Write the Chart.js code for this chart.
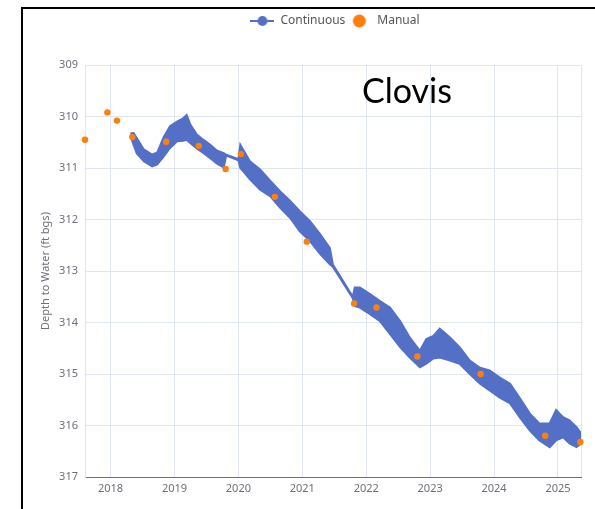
<!DOCTYPE html>
<html>
<head>
<meta charset="utf-8">
<title>Clovis – Depth to Water</title>
<script src="https://cdn.jsdelivr.net/npm/chart.js@4.4.1/dist/chart.umd.min.js"></script>
<style>
  html, body { margin: 0; padding: 0; background: #fff; }
  #wrap { position: relative; width: 595px; height: 509px; overflow: hidden; }
  #chart { position: absolute; left: 0; top: 0; }
  #frame { position: absolute; left: 21px; top: 7px; width: 700px; height: 700px;
           border: 2px solid #000; box-sizing: border-box; pointer-events: none; }
</style>
</head>
<body>
<div id="wrap">
  <canvas id="chart" width="595" height="509"></canvas>
  <div id="frame"></div>
</div>
<script>
// Manual (hand-measured) readings: decimal year and depth to water, ft bgs
const manualYears  = [2017.60, 2017.95, 2018.10, 2018.34, 2018.87, 2019.38, 2019.80, 2020.04,
                      2020.57, 2021.07, 2021.81, 2022.16, 2022.80, 2023.79, 2024.80, 2025.35];
const manualDepths = [310.45, 309.92, 310.08, 310.40, 310.49, 310.57, 311.02, 310.73,
                      311.56, 312.43, 313.63, 313.71, 314.66, 315.00, 316.20, 316.32];

// Continuous logger record, summarised as the shallow / deep envelope of the trace
const contYears = [2018.31, 2018.36, 2018.41, 2018.52, 2018.65, 2018.73, 2018.83, 2018.93,
                   2019.04, 2019.14, 2019.19, 2019.25, 2019.35, 2019.45, 2019.56, 2019.66,
                   2019.77, 2019.81, 2020.00, 2020.03, 2020.10, 2020.18, 2020.34, 2020.50,
                   2020.65, 2020.81, 2020.96, 2021.12, 2021.28, 2021.43, 2021.48, 2021.79,
                   2021.82, 2021.90, 2022.06, 2022.21, 2022.37, 2022.53, 2022.68, 2022.84,
                   2022.94, 2023.05, 2023.15, 2023.31, 2023.46, 2023.62, 2023.78, 2023.93,
                   2024.09, 2024.25, 2024.40, 2024.56, 2024.71, 2024.87, 2024.97, 2025.08,
                   2025.18, 2025.29, 2025.36];
const contShallow = [310.33, 310.32, 310.42, 310.64, 310.74, 310.70, 310.40, 310.19,
                     310.10, 310.03, 309.97, 310.16, 310.35, 310.45, 310.55, 310.66,
                     310.71, 310.74, 310.83, 310.55, 310.70, 310.87, 311.03, 311.25,
                     311.45, 311.64, 311.84, 312.03, 312.29, 312.55, 312.88, 313.50,
                     313.32, 313.32, 313.45, 313.58, 313.71, 313.97, 314.29, 314.55,
                     314.32, 314.26, 314.12, 314.29, 314.48, 314.74, 314.88, 314.93,
                     315.07, 315.19, 315.46, 315.77, 315.96, 315.96, 315.70, 315.84,
                     315.90, 316.03, 316.15];
const contDeep    = [310.36, 310.55, 310.72, 310.87, 310.97, 310.93, 310.78, 310.61,
                     310.48, 310.47, 310.45, 310.52, 310.62, 310.71, 310.81, 310.91,
                     310.99, 310.76, 310.85, 311.00, 311.10, 311.22, 311.42, 311.55,
                     311.77, 311.97, 312.23, 312.42, 312.67, 312.87, 312.92, 313.53,
                     313.68, 313.71, 313.84, 313.97, 314.22, 314.48, 314.68, 314.87,
                     314.80, 314.70, 314.68, 314.74, 314.80, 315.00, 315.19, 315.32,
                     315.46, 315.57, 315.84, 316.10, 316.29, 316.42, 316.29, 316.23,
                     316.35, 316.42, 316.35];

const yearTicks = [2018, 2019, 2020, 2021, 2022, 2023, 2024, 2025];
const depthTop = 309, depthBottom = 317;

const BLUE = '#5470C6';
const ORANGE = '#FF7F0E';
const GRID = '#E0E6F1';
const AXIS = '#6E7079';

const toPoints = (xs, ys) => xs.map((x, i) => ({ x, y: ys[i] }));
const allYears = manualYears.concat(contYears);
const xMin = Math.min(...allYears);
const xMax = Math.max(...allYears);

// small legend glyphs: line-with-dot for the logger series, plain dot for manual readings
function legendGlyph(kind) {
  const c = document.createElement('canvas');
  c.width = 24; c.height = 14;
  const g = c.getContext('2d');
  if (kind === 'line') {
    g.strokeStyle = BLUE; g.lineWidth = 2;
    g.beginPath(); g.moveTo(0, 7); g.lineTo(24, 7); g.stroke();
    g.fillStyle = BLUE;
    g.beginPath(); g.arc(12, 7, 5, 0, Math.PI * 2); g.fill();
  } else {
    g.fillStyle = ORANGE;
    g.beginPath(); g.arc(12, 7, 6.5, 0, Math.PI * 2); g.fill();
  }
  return c;
}

// nudges the legend row sideways so it centres on the framed panel
const legendShift = {
  id: 'legendShift',
  afterLayout(chart, args, opts) {
    if (chart.legend) { chart.legend.left += opts.dx; chart.legend.right += opts.dx; }
  }
};

// station name written inside the plot
const stationLabel = {
  id: 'stationLabel',
  afterDraw(chart, args, opts) {
    const { ctx, chartArea } = chart;
    ctx.save();
    ctx.font = opts.font;
    ctx.fillStyle = opts.color;
    ctx.textBaseline = 'alphabetic';
    ctx.textAlign = 'left';
    ctx.fillText(opts.text, chartArea.left + opts.dx, chartArea.top + opts.dy);
    ctx.restore();
  }
};

Chart.defaults.font.family = "'Noto Sans', 'Open Sans', sans-serif";

new Chart(document.getElementById('chart'), {
  type: 'line',
  data: {
    datasets: [
      {
        label: 'Continuous',
        data: toPoints(contYears, contShallow),
        xAxisID: 'x', yAxisID: 'y',
        borderColor: BLUE,
        backgroundColor: BLUE,
        borderWidth: 2,
        pointRadius: 0,
        fill: '+1',
        order: 2
      },
      {
        label: 'Continuous (deep)',
        data: toPoints(contYears, contDeep),
        xAxisID: 'x', yAxisID: 'y',
        borderColor: BLUE,
        backgroundColor: BLUE,
        borderWidth: 2,
        pointRadius: 0,
        fill: false,
        order: 2
      },
      {
        label: 'Manual',
        data: toPoints(manualYears, manualDepths),
        xAxisID: 'x', yAxisID: 'y',
        showLine: false,
        pointRadius: 3.2,
        pointBackgroundColor: ORANGE,
        pointBorderWidth: 0,
        borderColor: ORANGE,
        backgroundColor: ORANGE,
        clip: false,
        order: 1
      }
    ]
  },
  options: {
    responsive: false,
    animation: false,
    devicePixelRatio: 1,
    layout: { padding: { left: 35, right: 14, top: 13, bottom: 0 } },
    plugins: {
      tooltip: { enabled: false },
      legend: {
        position: 'top',
        align: 'center',
        labels: {
          usePointStyle: true,
          pointStyleWidth: 24,
          padding: 2,
          color: '#555',
          font: { size: 12 },
          generateLabels: () => [
            { text: 'Continuous', pointStyle: legendGlyph('line'), fillStyle: BLUE,
              strokeStyle: BLUE, lineWidth: 0, hidden: false, datasetIndex: 0, fontColor: '#555' },
            { text: 'Manual', pointStyle: legendGlyph('dot'), fillStyle: ORANGE,
              strokeStyle: ORANGE, lineWidth: 0, hidden: false, datasetIndex: 2, fontColor: '#555' }
          ]
        }
      },
      legendShift: { dx: 27 },
      stationLabel: { text: 'Clovis', font: "34px Lato, 'Open Sans', sans-serif",
                      color: '#000', dx: 277, dy: 38 }
    },
    scales: {
      spacer: {
        type: 'linear', position: 'top', display: true,
        grid: { display: false }, border: { display: false }, ticks: { display: false },
        afterFit: s => { s.height = 28; }
      },
      x: {
        type: 'linear',
        position: 'bottom',
        min: xMin,
        max: xMax,
        afterBuildTicks: s => {
          s.ticks = [xMin, ...yearTicks, xMax].map(v => ({ value: v }));
        },
        afterFit: s => { s.height = 32; },
        ticks: {
          autoSkip: false, maxRotation: 0, padding: 5, color: AXIS, font: { size: 11 },
          callback: v => (yearTicks.includes(v) ? String(v) : '')
        },
        grid: { color: GRID, drawTicks: false },
        border: { color: AXIS, width: 1 }
      },
      y: {
        type: 'linear',
        position: 'left',
        reverse: true,
        min: depthTop,
        max: depthBottom,
        afterFit: s => { s.width = 50; },
        ticks: { stepSize: 1, padding: 7, color: AXIS, font: { size: 11 } },
        grid: { color: GRID, drawTicks: false },
        border: { color: GRID },
        title: { display: true, text: 'Depth to Water (ft bgs)', color: AXIS,
                 font: { size: 11 }, padding: { top: 4, bottom: 4 } }
      }
    }
  },
  plugins: [legendShift, stationLabel]
});
</script>
</body>
</html>
